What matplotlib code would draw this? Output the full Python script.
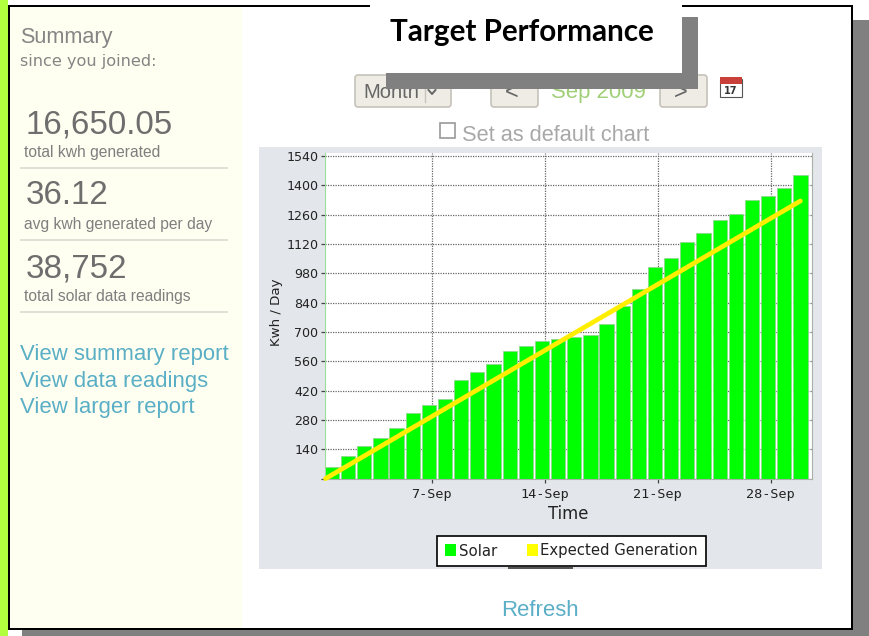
import matplotlib
matplotlib.use("Agg")
import matplotlib.pyplot as plt
from matplotlib.patches import Rectangle, FancyBboxPatch, Patch

W, H = 869, 636

# ---- data ----
days = list(range(1, 31))
solar = [55, 109, 157, 195, 243, 312, 351, 380, 472, 510, 546, 608, 633, 657, 666,
         677, 687, 739, 824, 906, 1011, 1054, 1128, 1171, 1233, 1263, 1330, 1350, 1389, 1449]
expected_days = [0.6, 30]
expected = [0, 1325]
y_ticks = [0, 140, 280, 420, 560, 700, 840, 980, 1120, 1260, 1400, 1540]
y_labels = ["", "140", "280", "420", "560", "700", "840", "980", "1120", "1260", "1400", "1540"]
x_ticks = [7.17, 14.17, 21.17, 28.17]
x_labels = ["7-Sep", "14-Sep", "21-Sep", "28-Sep"]
stats = [("16,650.05", "total kwh generated"),
         ("36.12", "avg kwh generated per day"),
         ("38,752", "total solar data readings")]
links = ["View summary report", "View data readings", "View larger report"]

fig = plt.figure(figsize=(W / 100, H / 100), dpi=100, facecolor="white")
page = fig.add_axes([0, 0, 1, 1], zorder=0)
page.set_xlim(0, W)
page.set_ylim(H, 0)
page.axis("off")

SANS = "Liberation Sans"
GRAY = "#808080"


def rect(x0, y0, x1, y1, color, z=1, **kw):
    page.add_patch(Rectangle((x0, y0), x1 - x0, y1 - y0, facecolor=color, edgecolor="none", zorder=z, **kw))


def txt(x, y, s, size, color="#777777", family=SANS, z=3, **kw):
    page.text(x, y, s, fontsize=size, color=color, family=family, va="baseline", zorder=z, **kw)


def button(x0, y0, x1, y1):
    page.add_patch(FancyBboxPatch((x0 + 2, y0 + 2), x1 - x0 - 4, y1 - y0 - 4,
                                  boxstyle="round,pad=2,rounding_size=3",
                                  facecolor="#efece6", edgecolor="#c6c2b9", lw=1.2, zorder=2))


# page frame and shadow
rect(0, 0, 8, H, "#b2ff3f")
rect(22, 20, W, H, GRAY)
rect(8, 5, 853, 630, "black", z=1.2)
rect(10, 7, 851, 628, "white", z=1.3)
rect(10, 7, 242, 628, "#fefff0", z=1.4)
rect(259, 147, 822, 569, "#e3e6ea", z=1.4)
rect(508, 566.5, 573, 568.5, "#555555", z=1.5)

# left panel
txt(20, 43.5, "Summary", 15.6, "#858585")
txt(20, 66, "since you joined:", 11.6, "#858585", family="DejaVu Sans")
for (value, label), by, ly, ry in zip(stats, (133, 204.5, 277), (157, 229, 301), (168, 240, 312)):
    txt(26, by, value, 23.9, "#6e6e6e")
    txt(24, ly, label, 11.25, "#7f7f7f")
    rect(20, ry - 1, 228, ry + 1, "#dfe0d8", z=2)
for s, by in zip(links, (360, 386.5, 413)):
    txt(20, by, s, 15.95, "#5aaec6")

# controls
button(355, 75, 451, 107)
page.plot([425, 425], [80, 102], color="#c8c4bc", lw=1, zorder=2.5)
txt(363, 98, "Month", 14.5, "#666666")
page.plot([428.5, 432, 435.5], [90, 94, 90], color="#666666", lw=1.4, zorder=2.5)
button(491, 75, 538, 107)
txt(505, 99, "<", 17, "#666666")
button(660, 75, 707, 107)
txt(674, 99, ">", 17, "#666666")
txt(551, 98, "Sep 2009", 15.9, "#a0cf78")
page.add_patch(Rectangle((720, 79), 22, 18, facecolor="white", edgecolor="#555555", lw=0.8, zorder=2.2))
rect(720, 77, 742, 84, "#c9403a", z=2.4)
page.text(731, 91, "17", fontsize=7, color="#333333", family="DejaVu Sans", weight="bold",
          ha="center", va="center", zorder=2.6)
page.add_patch(Rectangle((439.5, 122.5), 15, 15, facecolor="white", edgecolor="#9a9a9a", lw=1.2, zorder=2))
txt(462, 141, "Set as default chart", 15.7, "#a8a8a8")
txt(540, 616, "Refresh", 15.9, "#5aaec6", ha="center")

# title box and its shadow
rect(386, 17, 698, 89, GRAY, z=4)
rect(370, 0, 682, 73, "white", z=4.1)
txt(390, 41, "Target Performance", 21.3, "black", family="Lato", z=4.2, weight="bold")

# chart
left, right, top, bottom = 325, 811.7, 153, 478.6
ax = fig.add_axes([left / W, 1 - bottom / H, (right - left) / W, (bottom - top) / H], zorder=1)
ax.set_facecolor("white")
ax.set_xlim(0.567, 30.70)
ax.set_ylim(0, 1554)
ax.grid(True, color="#666666", linestyle=(0, (1, 1)), lw=0.9)
ax.set_axisbelow(True)
ax.bar(days, solar, width=0.88, color="#00ff00", edgecolor="#8fd88f", lw=0.6, zorder=2, label="Solar")
ax.plot(expected_days, expected, color="#ffee00", lw=3.4, solid_capstyle="round", zorder=3, clip_on=False)
ax.set_yticks(y_ticks, y_labels, fontsize=9.1, color="#222222", family="DejaVu Sans")
ax.set_xticks(x_ticks, x_labels, fontsize=9.7, color="#222222", family="DejaVu Sans Mono")
ax.tick_params(axis="both", length=3, width=0.9, color="#444444", pad=2)
ax.tick_params(axis="x", pad=3.5)
for side in ("top", "right", "bottom"):
    ax.spines[side].set_color("#a8b0a8")
ax.spines["left"].set_color("#9adf9a")
ax.spines["top"].set_visible(False)
ax.set_xlabel("Time", fontsize=11.9, color="#222222", labelpad=3)
ax.set_ylabel("Kwh / Day", fontsize=9.6, color="#222222", labelpad=0)
ax.yaxis.set_label_coords((283 - left) / (right - left), (bottom - 312) / (bottom - top))

handles = [Patch(facecolor="#00ff00", edgecolor="none", label="Solar"),
           Patch(facecolor="#ffff00", edgecolor="none", label="Expected Generation")]
leg = fig.legend(handles=handles, ncol=2, loc="center",
                 bbox_to_anchor=(571.5 / W, 1 - 551 / H), fontsize=10.7, frameon=True, fancybox=False,
                 edgecolor="black", framealpha=1, handlelength=0.73, handleheight=0.87,
                 handletextpad=0.2, columnspacing=2.0, borderpad=0.53, labelcolor="#222222")
leg.get_frame().set_linewidth(1.2)

fig.savefig("out.png", dpi=100)
